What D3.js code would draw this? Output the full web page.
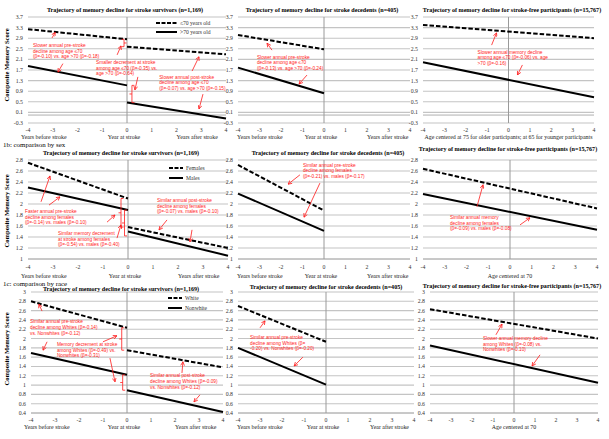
<!DOCTYPE html>
<html><head><meta charset="utf-8">
<script src="https://cdn.jsdelivr.net/npm/d3@7"></script>
<style>body{margin:0;background:#fff}svg{display:block}</style>
</head><body><svg id="c" width="609" height="439"></svg>
<script>
// ---------- data ----------
const xTicks = [-4,-3,-2,-1,0,1,2,3,4];
const yTicksAge = [-0.3,0.1,0.5,0.9,1.3,1.7,2.1,2.5,2.9,3.3,3.7];
const yTicksSex = [1,1.2,1.4,1.6,1.8,2,2.2,2.4,2.6,2.8];
const yTicksRace = [0.4,0.6,0.8,1,1.2,1.4,1.6,1.8,2,2.2,2.4,2.6,2.8,3];
const preYears = [-4,0], postYears = [0,4], allYears = [-4,4];

// 1a: by age
const ageSurvYoungPre = [3.24, 2.86], ageSurvYoungPost = [2.58, 2.29];
const ageSurvOldPre = [1.85, 1.12], ageSurvOldPost = [0.47, -0.13];
const ageDecYoung = [3.02, 2.48], ageDecOld = [1.79, 0.82];
const ageFreeYoung = [3.40, 2.90], ageFreeOld = [1.99, 0.67];
// 1b: by sex
const sexSurvFemPre = [2.75, 2.10], sexSurvFemPost = [1.58, 1.20];
const sexSurvMalePre = [2.30, 1.89], sexSurvMalePost = [1.50, 1.06];
const sexDecFem = [2.71, 1.88], sexDecMale = [2.19, 1.51];
const sexFreeFem = [2.64, 1.92], sexFreeMale = [2.18, 1.53];
// 1c: by race
const raceSurvWhitePre = [2.80, 2.23], raceSurvWhitePost = [1.75, 1.38];
const raceSurvNonPre = [1.69, 1.22], raceSurvNonPost = [0.89, 0.42];
const raceDecWhite = [2.70, 1.93], raceDecNon = [1.80, 1.01];
const raceFreeWhite = [2.63, 2.00], raceFreeNon = [1.85, 1.05];

const legendAge = ["\u226470 years old", ">70 years old"];
const legendSex = ["Females", "Males"];
const legendRace = ["White", "Nonwhite"];
const titleSurv = "Trajectory of memory decline for stroke survivors (n=1,169)";
const titleDec = "Trajectory of memory decline for stroke decedents (n=405)";
const titleFree = "Trajectory of memory decline for stroke-free participants (n=15,767)";

// ---------- layout ----------
const rows = [
  {domain:[-0.3,3.7], ticks:yTicksAge, range:[123,17], titleY:10, tickY:130, xTitleY:137, yTitleY:65,
   legend:legendAge, legendX:[156,177], legendY:[23,32]},
  {domain:[1,2.8], ticks:yTicksSex, range:[259,160], titleY:153, tickY:267, xTitleY:275.5, yTitleY:211,
   legend:legendSex, legendX:[169,183], legendY:[168,178], heading:"1b: comparison by sex", headingY:145},
  {domain:[0.4,3], ticks:yTicksRace, range:[413,292], titleY:288.5, tickY:420, xTitleY:427, yTitleY:349,
   legend:legendRace, legendX:[168,182], legendY:[298,308], heading:"1c: comparison by race", headingY:284}
];

const S = (xs, ys, dashed) => ({xs, ys, dashed});

const panels = [
  // row 1
  {row:0, x:[28,226], title:titleSurv, titleX:125, kind:"stroke",
   series:[S(preYears,ageSurvYoungPre,true),S(postYears,ageSurvYoungPost,true),S(preYears,ageSurvOldPre,false),S(postYears,ageSurvOldPost,false)],
   texts:[{x:-3.8,y:2.64,lines:["Slower annual pre-stroke","decline among age \u226470","(\u03b2=-0.10) vs. age >70 (\u03b2=-0.18)"]},
          {x:-1.25,y:2.0,lines:["Smaller decrement at stroke","among age \u226470 (\u03b2=-0.35) vs.","age >70 (\u03b2=-0.64)"]},
          {x:1.3,y:1.44,lines:["Slower annual post-stroke","decline among age \u226470","(\u03b2=-0.07) vs. age >70 (\u03b2=-0.15)"]}],
   arrows:[[-3.03,2.91,-2.9,3.12],[-2.59,1.94,-2.79,1.62],[-0.40,2.27,-0.24,2.61],[0.44,1.44,0.32,0.95],[2.63,1.66,2.91,2.2],[3.07,0.79,2.91,0.23]],
   brackets:[{x:-0.12,y1:2.86,y2:2.58,side:-1},{x:0.2,y1:1.12,y2:0.47,side:1}]},
  {row:0, x:[238,410], title:titleDec, titleX:322, kind:"stroke",
   series:[S(preYears,ageDecYoung,true),S(preYears,ageDecOld,false)],
   texts:[{x:-3.12,y:2.19,lines:["Slower annual pre-stroke","decline among age \u226470","(\u03b2=-0.13) vs. age >70 (\u03b2=-0.24)"]}],
   arrows:[[-2.42,2.45,-2.65,2.71],[-0.79,1.51,-1.16,1.17]], brackets:[]},
  {row:0, x:[423,594], title:titleFree, titleX:512, kind:"age", xTitle:"Age centered at 75 for older participants; at 65 for younger participants",
   series:[S(allYears,ageFreeYoung,true),S(allYears,ageFreeOld,false)],
   texts:[{x:-1.45,y:2.38,lines:["Slower annual memory decline","among age \u226470 (\u03b2=-0.06) vs. age",">70 (\u03b2=-0.16)"]}],
   arrows:[[-0.79,2.64,-0.56,3.10],[0.65,1.89,0.42,1.51]], brackets:[]},
  // row 2
  {row:1, x:[28,228], title:titleSurv, titleX:121, kind:"stroke",
   series:[S(preYears,sexSurvFemPre,true),S(postYears,sexSurvFemPost,true),S(preYears,sexSurvMalePre,false),S(postYears,sexSurvMalePost,false)],
   texts:[{x:-4.12,y:1.87,lines:["Faster annual pre-stroke","decline among females","(\u03b2=-0.14) vs. males (\u03b2=-0.10)"]},
          {x:-2.8,y:1.47,lines:["Similar memory decrement","at stroke among females","(\u03b2=-0.54) vs. males (\u03b2=-0.40)"]},
          {x:1.16,y:2.07,lines:["Similar annual post-stroke","decline among females","(\u03b2=-0.07) vs. males (\u03b2=-0.10)"]}],
   arrows:[[-3.48,2.04,-3.12,2.51],[-3.16,1.98,-2.72,2.13],[-0.84,1.67,-0.52,1.80],[-0.44,1.38,-0.28,1.62],[1.56,1.71,1.24,1.53],[2.56,1.53,2.48,1.31]],
   brackets:[{x:-0.28,y1:2.10,y2:1.58,side:1},{x:-0.14,y1:1.89,y2:1.42,side:1}]},
  {row:1, x:[238,410], title:titleDec, titleX:328, kind:"stroke",
   series:[S(preYears,sexDecFem,true),S(preYears,sexDecMale,false)],
   texts:[{x:-0.98,y:2.71,lines:["Similar annual pre-stroke","decline among females","(\u03b2=-0.21) vs. males (\u03b2=-0.17)"]}],
   arrows:[[-1.12,2.53,-1.67,2.36],[-0.19,2.38,-0.93,1.76]], brackets:[]},
  {row:1, x:[423,597], title:titleFree, titleX:508, titleY:149, kind:"age", xTitle:"Age centered at 70",
   series:[S(allYears,sexFreeFem,true),S(allYears,sexFreeMale,false)],
   texts:[{x:-2.76,y:1.76,lines:["Similar annual memory","decline among females","(\u03b2=-0.09) vs. males (\u03b2=-0.08)"]}],
   arrows:[[-1.52,1.95,-1.24,2.35],[0.46,1.62,0.92,1.75]], brackets:[]},
  // row 3
  {row:2, x:[31,223], title:titleSurv, titleX:121, kind:"stroke",
   series:[S(preYears,raceSurvWhitePre,true),S(postYears,raceSurvWhitePost,true),S(preYears,raceSurvNonPre,false),S(postYears,raceSurvNonPost,false)],
   texts:[{x:-4.04,y:2.36,lines:["Similar annual pre-stroke","decline among Whites (\u03b2=-0.14)","vs. Nonwhites (\u03b2=-0.12)"]},
          {x:-2.92,y:1.88,lines:["Memory decrement at stroke","among Whites (\u03b2=-0.49) vs.","Nonwhites (\u03b2=-0.31)"]},
          {x:0.96,y:1.20,lines:["Similar annual post-stroke","decline among Whites (\u03b2=-0.09)","vs. Nonwhites (\u03b2=-0.12)"]}],
   arrows:[[-3.54,2.59,-3.67,2.74],[-3.33,1.93,-3.5,1.75],[-1.0,1.93,-0.42,2.06],[-0.71,1.58,-0.5,1.07],[2.29,1.26,2.33,1.50],[3.04,0.79,2.79,0.64]],
   brackets:[{x:-0.22,y1:2.23,y2:1.75,side:1},{x:-0.18,y1:1.22,y2:0.89,side:1}]},
  {row:2, x:[238,414], title:titleDec, titleX:326, titleY:287, kind:"stroke", afterLabel:"Year after stroke",
   series:[S(preYears,raceDecWhite,true),S(preYears,raceDecNon,false)],
   texts:[{x:-3.45,y:2.03,lines:["Similar annual pre-stroke","decline among Whites (\u03b2=","-0.20) vs. Nonwhites (\u03b2=-0.20)"]}],
   arrows:[[-3.0,2.23,-2.77,2.38],[-1.05,1.60,-1.45,1.41]], brackets:[]},
  {row:2, x:[430,598], title:titleFree, titleX:512, titleY:286, kind:"age", xTitle:"Age centered at 70",
   series:[S(allYears,raceFreeWhite,true),S(allYears,raceFreeNon,false)],
   texts:[{x:-1.48,y:2.01,lines:["Slower annual memory decline","among Whites (\u03b2=-0.08) vs.","Nonwhites (\u03b2=-0.10)"]}],
   arrows:[[-0.86,2.08,-0.57,2.31],[1.24,1.65,0.86,1.41]], brackets:[]}
];

// ---------- drawing ----------
const svg = d3.select("#c");
const SERIF = "'Liberation Serif','Times New Roman',serif";
const SANS = "'Liberation Sans',Arial,sans-serif";
const RED = "#ff1a1a";

svg.append("defs").append("marker").attr("id","ah")
  .attr("viewBox","0 0 6 6").attr("refX",5.5).attr("refY",3)
  .attr("markerWidth",4.5).attr("markerHeight",4.5).attr("markerUnits","userSpaceOnUse")
  .attr("orient","auto")
  .append("path").attr("d","M0.5,0.5 L5.5,3 L0.5,5.5").attr("fill","none").attr("stroke",RED).attr("stroke-width",1);

rows.forEach(r => {
  svg.append("text").attr("transform",`translate(7,${r.yTitleY}) rotate(-90)`)
    .attr("text-anchor","middle").attr("dy","0.35em")
    .attr("font-family",SERIF).attr("font-weight","bold").attr("font-size",6.6)
    .text("Composite Memory Score");
  if (r.heading) svg.append("text").attr("x",3).attr("y",r.headingY).attr("dy","0.32em")
    .attr("font-family",SERIF).attr("font-size",6.9).text(r.heading);
});

panels.forEach((p, pi) => {
  const r = rows[p.row];
  const x = d3.scaleLinear().domain([-4,4]).range(p.x);
  const y = d3.scaleLinear().domain(r.domain).range(r.range);
  const g = svg.append("g");

  // gridlines
  g.append("g").selectAll("line").data(r.ticks).join("line")
    .attr("x1",p.x[0]).attr("x2",p.x[1]).attr("y1",d=>y(d)).attr("y2",d=>y(d))
    .attr("stroke","#c4c4c4").attr("stroke-width",1.1);
  // horizontal axis line (crosses at 0 or minimum)
  const axY = Math.max(r.domain[0], 0);
  g.append("line").attr("x1",p.x[0]).attr("x2",p.x[1]).attr("y1",y(axY)).attr("y2",y(axY))
    .attr("stroke","#b0b0b0").attr("stroke-width",1);
  // vertical axis at 0
  g.append("line").attr("x1",x(0)).attr("x2",x(0)).attr("y1",r.range[0]).attr("y2",r.range[1])
    .attr("stroke","#9a9a9a").attr("stroke-width",1);

  // y tick labels
  g.append("g").selectAll("text").data(r.ticks).join("text")
    .attr("x",p.x[0]-5).attr("y",d=>y(d)).attr("dy","0.35em").attr("text-anchor","end")
    .attr("font-family",SERIF).attr("font-size",5.8).attr("fill","#333")
    .text(d=>String(+d.toFixed(1)));
  // x tick labels
  g.append("g").selectAll("text").data(xTicks).join("text")
    .attr("x",d=>x(d)).attr("y",r.tickY).attr("dy","0.35em").attr("text-anchor","middle")
    .attr("font-family",SERIF).attr("font-size",5.8).attr("fill","#333")
    .text(d=>d);

  // x titles
  const xt = (tx, anchor, label) => g.append("text").attr("x",tx).attr("y",r.xTitleY).attr("dy","0.35em")
    .attr("text-anchor",anchor).attr("font-family",SERIF).attr("font-size",5.9).attr("fill","#222").text(label);
  if (p.kind === "stroke") {
    xt(x(-4) - (pi%3===0 ? 7 : 1), "start", "Years before stroke");
    xt(x(0) - 3, "middle", "Year at stroke");
    xt(x(2), "start", p.afterLabel || "Years after stroke");
  } else {
    xt(x(0), "middle", p.xTitle);
  }

  // title
  g.append("text").attr("x",p.titleX).attr("y",p.titleY || r.titleY).attr("dy","0.35em")
    .attr("text-anchor","middle").attr("font-family",SERIF).attr("font-weight","bold").attr("font-size",6.1)
    .text(p.title);

  // series lines
  const line = d3.line().x(d=>x(d[0])).y(d=>y(d[1]));
  g.append("g").selectAll("path").data(p.series).join("path")
    .attr("d",s=>line(s.xs.map((v,i)=>[v,s.ys[i]])))
    .attr("fill","none").attr("stroke","#000").attr("stroke-width",2)
    .attr("stroke-dasharray",s=>s.dashed?"4.5,2":null);

  // annotations
  p.texts.forEach(t => {
    const tx = g.append("text").attr("x",x(t.x)).attr("y",y(t.y)).attr("dy","0.35em")
      .attr("font-family",SANS).attr("font-size",4.75).attr("fill",RED);
    t.lines.forEach((ln,i) => tx.append("tspan").attr("x",x(t.x)).attr("dy", i===0 ? "0.35em" : 5.8).text(ln));
  });
  g.append("g").selectAll("line").data(p.arrows).join("line")
    .attr("x1",a=>x(a[0])).attr("y1",a=>y(a[1])).attr("x2",a=>x(a[2])).attr("y2",a=>y(a[3]))
    .attr("stroke",RED).attr("stroke-width",0.8).attr("marker-end","url(#ah)");
  g.append("g").selectAll("path").data(p.brackets).join("path")
    .attr("d",b=>{const bx=x(b.x), y1=y(b.y1), y2=y(b.y2), s=b.side*2.5, m=(y1+y2)/2;
      return `M${bx+s},${y1} H${bx} V${y2} H${bx+s} M${bx},${m} H${bx-s}`;})
    .attr("fill","none").attr("stroke",RED).attr("stroke-width",0.8);

  // legend (first panel of each row)
  if (pi % 3 === 0) {
    r.legend.forEach((lab,i) => {
      g.append("line").attr("x1",r.legendX[0]).attr("x2",r.legendX[1]).attr("y1",r.legendY[i]).attr("y2",r.legendY[i])
        .attr("stroke","#000").attr("stroke-width",2).attr("stroke-dasharray",i===0?"4,1.5":null);
      g.append("text").attr("x",r.legendX[1]+3).attr("y",r.legendY[i]).attr("dy","0.35em")
        .attr("font-family",SERIF).attr("font-size",5.6).attr("fill","#333").text(lab);
    });
  }
});
</script></body></html>
